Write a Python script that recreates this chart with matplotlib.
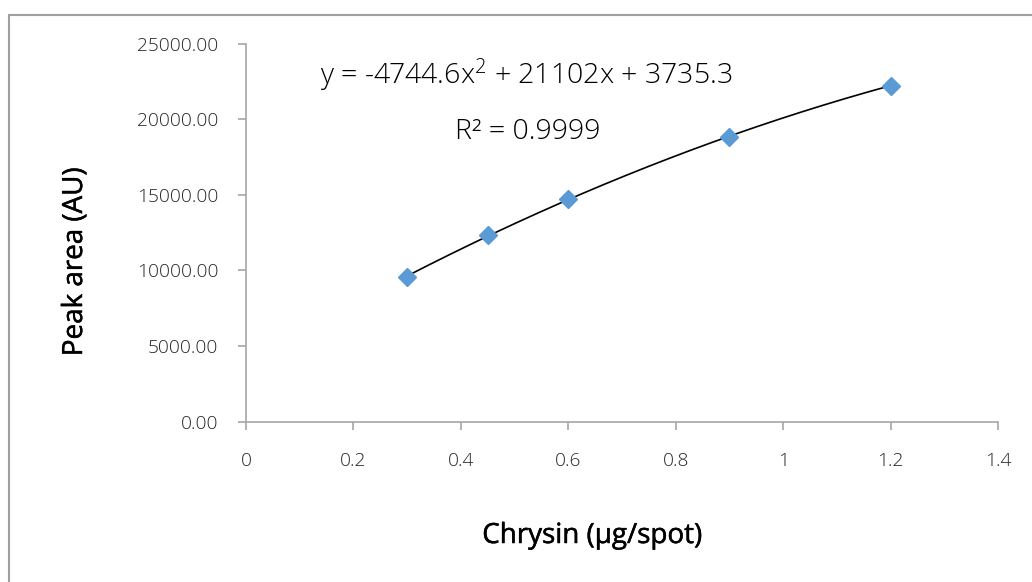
import numpy as np
import matplotlib.pyplot as plt
import matplotlib.patheffects as pe
from matplotlib.patches import Rectangle

# data
amount = [0.3, 0.45, 0.6, 0.9, 1.2]
peak_area = [9590, 12340, 14700, 18850, 22220]
fit_coef = [-4744.6, 21102, 3735.3]
x_ticks = [0, 0.2, 0.4, 0.6, 0.8, 1, 1.2, 1.4]
x_tick_labels = ["0", "0.2", "0.4", "0.6", "0.8", "1", "1.2", "1.4"]
y_ticks = [0, 5000, 10000, 15000, 20000, 25000]

plt.rcParams['font.family'] = ['Open Sans', 'DejaVu Sans']
plt.rcParams['mathtext.fontset'] = 'custom'
plt.rcParams['mathtext.rm'] = 'Open Sans:light'
plt.rcParams['mathtext.it'] = 'Open Sans:light'
plt.rcParams['mathtext.bf'] = 'Open Sans:light'

W, H = 1032, 582
fig = plt.figure(figsize=(W/100, H/100), dpi=100)
ax = fig.add_axes([246/W, 1-421.7/H, (998-246)/W, (421.7-43.7)/H])

# outer frame of the chart area
fig.patches.append(Rectangle((8.5/W, -0.1), 1.2, 1 - 14.5/H + 0.1,
                             transform=fig.transFigure, fill=False,
                             edgecolor='#a0a0a0', lw=1.5))

xs = np.linspace(min(amount), max(amount), 200)
ax.plot(xs, np.polyval(fit_coef, xs), color='black', lw=1.2, zorder=2)
ax.plot(amount, peak_area, 'D', color='#5B9BD5', ms=9.5, mec='#5B9BD5', zorder=3)

ax.set_xlim(0, 1.4)
ax.set_ylim(0, 25000)
ax.set_xticks(x_ticks)
ax.set_xticklabels(x_tick_labels)
ax.set_yticks(y_ticks)
ax.set_yticklabels(["%.2f" % v for v in y_ticks])

for s in ['top', 'right']:
    ax.spines[s].set_visible(False)
for s in ['left', 'bottom']:
    ax.spines[s].set_color('#a6a6a6')
    ax.spines[s].set_linewidth(1.2)
ax.tick_params(axis='both', colors='#a6a6a6', length=6, width=1.2,
               labelcolor='#262626', labelsize=13.8)
for lab in ax.get_xticklabels() + ax.get_yticklabels():
    lab.set_fontweight('light')
ax.tick_params(axis='x', pad=16)
ax.tick_params(axis='y', pad=14)

# axis titles placed where the reference has them (slightly heavier stroke)
thick = [pe.withStroke(linewidth=0.35, foreground='black')]
fig.text(592/W, 1-536/H, "Chrysin (μg/spot)", fontsize=20,
         ha='center', va='center', path_effects=thick)
fig.text(75/W, 1-262/H, "Peak area (AU)", fontsize=20,
         ha='center', va='center', rotation=90, path_effects=thick)

fig.text(320/W, 1-75/H, r"y = -4744.6x$^{\mathrm{2}}$ + 21102x + 3735.3",
         fontsize=20.5, fontweight='light', va='center', ha='left')
fig.text(455/W, 1-132/H, "R² = 0.9999", fontsize=20.5, fontweight='light',
         va='center', ha='left')

fig.savefig("out.png", dpi=100)
